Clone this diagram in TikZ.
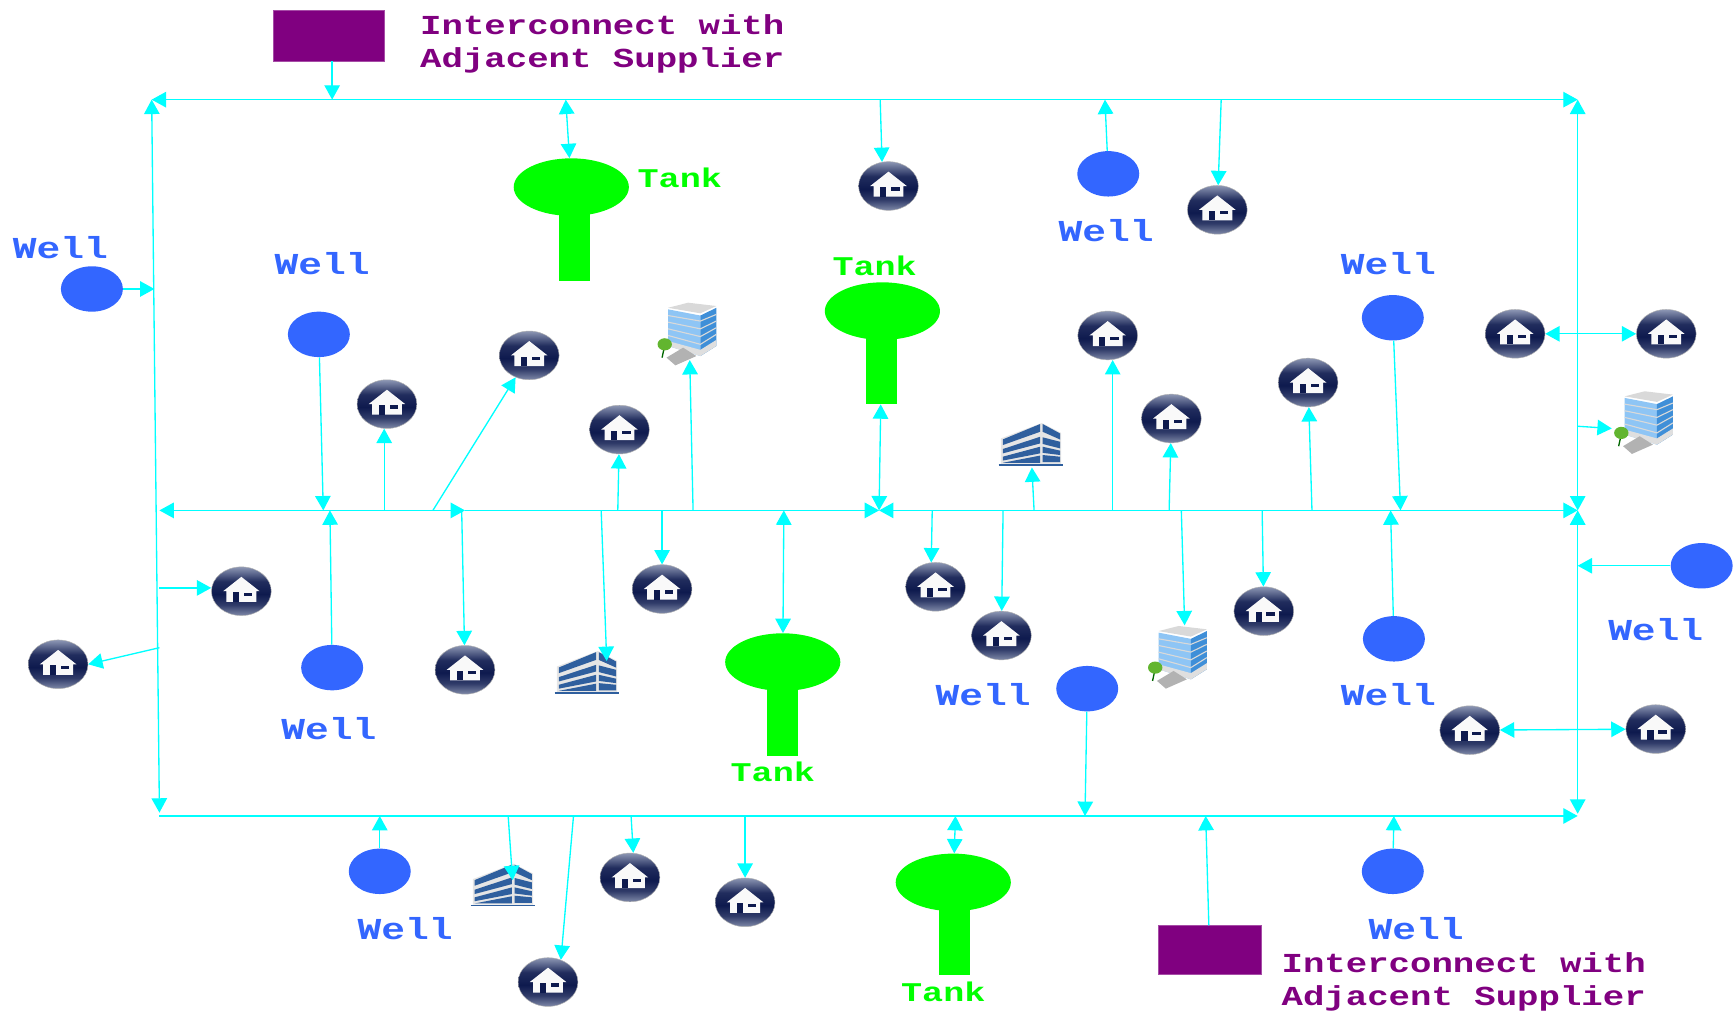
\documentclass[tikz,border=0pt]{standalone}
\usepackage{xcolor}
\usepackage{fontspec}
\usepackage{tikz}
\usetikzlibrary{arrows.meta,shapes.geometric}
\newfontfamily\labelfont[FakeStretch=1.3]{Liberation Mono}
\definecolor{wellblue}{HTML}{3366FF}
\definecolor{tankgreen}{HTML}{00FF00}
\definecolor{supplier}{HTML}{800080}
\definecolor{pipecyan}{HTML}{00FFFF}
\definecolor{navy}{HTML}{0E1A4E}
\definecolor{domelow}{HTML}{7F89A8}
\definecolor{domehigh}{HTML}{8D97B4}
\definecolor{slab}{HTML}{2F5F9E}
\definecolor{glasslight}{HTML}{8EC5F5}
\definecolor{glassdark}{HTML}{3F8FD8}
\definecolor{leaf}{HTML}{62B52F}
\pgfdeclareverticalshading{housedome}{100bp}{
	color(0bp)=(domelow);
	color(25bp)=(domelow);
	color(36bp)=(navy!70!domelow);
	color(47bp)=(navy);
	color(60bp)=(navy!85!domehigh);
	color(75bp)=(domehigh);
	color(100bp)=(domehigh)
}
\tikzset{
	house/.style={
		ellipse, draw=gray!60, line width=0.4pt,
		minimum width=54, minimum height=44, inner sep=0pt,
		shading=housedome,
		path picture={
			\begin{scope}[shift={(path picture bounding box.center)}]
				\fill[white!95!gray] (0,-13) -- (16.5,0) -- (13.5,0) -- (13.5,9.6)
					-- (-13.5,9.6) -- (-13.5,0) -- (-16.5,0) -- cycle;
				\fill[navy] (-7.5,1) rectangle (-2,9.6);
				\fill[navy] (2.4,1.2) rectangle (10,4.2);
			\end{scope}
		}
	},
	tower/.style={
		minimum width=56, minimum height=58, inner sep=0pt,
		path picture={
			\begin{scope}[shift={(path picture bounding box.center)}]
				\fill[gray!30] (-16.6,-24) -- (1.5,-28.6) -- (27,-25.6) -- (12.6,-19) -- cycle;
				\fill[glasslight] (-16.6,-22.6) -- (12.6,-17) -- (12.6,19.6) -- (-16.6,10.5) -- cycle;
				\fill[glassdark] (12.6,-17) -- (27,-24) -- (27,10.5) -- (12.6,19.6) -- cycle;
				\foreach \f in {0,1,2,3} {
					\draw[gray!30, line width=1pt] (-16.6,-17+6*\f) -- (12.6,-12+7*\f) -- (27,-18+6*\f);
				}
				\fill[gray!25] (-16.6,6) -- (12.6,14) -- (27,5) -- (27,10.5) -- (12.6,19.6) -- (-16.6,10.5) -- cycle;
				\fill[gray!60] (-18,21) -- (-3,12) -- (9,19.6) -- (-10,28) -- cycle;
				\draw[green!40!black, line width=1.2pt] (-19.6,10) -- (-22,21);
				\fill[leaf] (-19.6,9) circle [x radius=6.5, y radius=5.5];
			\end{scope}
		}
	},
	lowrise/.style={
		minimum width=60, minimum height=40, inner sep=0pt,
		path picture={
			\begin{scope}[shift={(path picture bounding box.center)}]
				\fill[gray!20] (-27,-6) -- (10,-20) -- (27.5,-11) -- (27.5,17) -- (-27,17) -- cycle;
				\fill[slab] (-25.3,-5.1) -- (8.4,-19) -- (8.4,-12) -- (-25.3,0) -- cycle;
				\fill[slab] (-25.3,3.6) -- (8.4,-7.5) -- (8.4,-1.5) -- (-25.3,7.5) -- cycle;
				\fill[slab] (-25.3,10.5) -- (8.4,1.5) -- (8.4,7.5) -- (-25.3,14) -- cycle;
				\fill[slab] (-25.3,16) -- (8.4,9.5) -- (8.4,16) -- cycle;
				\fill[slab] (10.8,-19) -- (26.5,-10.5) -- (26.5,-5) -- (10.8,-12) -- cycle;
				\fill[slab] (10.8,-7) -- (26.5,-3) -- (26.5,3) -- (10.8,-1) -- cycle;
				\fill[slab] (10.8,1.5) -- (26.5,5) -- (26.5,9) -- (10.8,7) -- cycle;
				\fill[slab] (10.8,9) -- (26.5,10.5) -- (26.5,15.5) -- (10.8,15.5) -- cycle;
				\draw[slab, line width=1.4pt] (-29,18) -- (29.5,18);
			\end{scope}
		}
	}
}
\begin{document}
\begin{tikzpicture}[
	x=1pt, y=-1pt,
	>={Triangle[length=13pt,width=14pt]},
	pipe/.style={draw=pipecyan, line width=1.2pt},
	well/.style={ellipse, fill=wellblue, minimum width=56, minimum height=41, inner sep=0pt},
	tank/.style={ellipse, fill=tankgreen, minimum width=104, minimum height=52, inner sep=0pt},
	stem/.style={rectangle, fill=tankgreen, minimum width=28, inner sep=0pt},
	interconnect/.style={rectangle, fill=supplier, draw=supplier!70!white, line width=0.6pt, inner sep=0pt},
	welltext/.style={text=wellblue, font=\labelfont\bfseries\fontsize{27.5}{30}\selectfont},
	tanktext/.style={text=tankgreen, font=\labelfont\bfseries\fontsize{24.4}{30}\selectfont},
	suppliertext/.style={text=supplier, align=center, font=\labelfont\bfseries\fontsize{24.8}{30}\selectfont}
]
\useasboundingbox (0,0) rectangle (1568,914);

% supply points
\node[well] (well1) at (83,261) {};
\node[well] (well2) at (288,302) {};
\node[well] (well3) at (1001,157) {};
\node[well] (well4) at (1258,287) {};
\node[well] (well5) at (1537,511) {};
\node[well] (well6) at (300,603) {};
\node[well] (well7) at (982,622) {};
\node[well] (well8) at (1259,577) {};
\node[well] (well9) at (343,787) {};
\node[well] (well10) at (1258,787) {};
\node[welltext] (welllabel1) at (54.5,224) {Well};
\node[welltext] (welllabel2) at (291,238) {Well};
\node[welltext] (welllabel3) at (999,208) {Well};
\node[welltext] (welllabel4) at (1254,238) {Well};
\node[welltext] (welllabel5) at (1495.5,569) {Well};
\node[welltext] (welllabel6) at (297,658) {Well};
\node[welltext] (welllabel7) at (888,627) {Well};
\node[welltext] (welllabel8) at (1254,627) {Well};
\node[welltext] (welllabel9) at (366,839) {Well};
\node[welltext] (welllabel10) at (1279,839) {Well};

% tanks
\node[stem, minimum height=64] (stem1) at (519,222) {};
\node[tank] (tank1) at (516,169) {};
\node[stem, minimum height=64] (stem2) at (796,333) {};
\node[tank] (tank2) at (797,281) {};
\node[stem, minimum height=64] (stem3) at (707,651) {};
\node[tank] (tank3) at (707,598) {};
\node[stem, minimum height=64] (stem4) at (862,849) {};
\node[tank] (tank4) at (861,797) {};
\node[tanktext] (tanklabel1) at (614,161) {Tank};
\node[tanktext] (tanklabel2) at (790,240) {Tank};
\node[tanktext] (tanklabel3) at (698,697) {Tank};
\node[tanktext] (tanklabel4) at (852,896) {Tank};

% interconnects
\node[interconnect, minimum width=100, minimum height=46] (supply1) at (297,32) {};
\node[interconnect, minimum width=93, minimum height=44] (supply2) at (1092.5,858) {};
\node[suppliertext] (supplylabel1) at (544,40) {Interconnect with\\Adjacent Supplier};
\node[suppliertext] (supplylabel2) at (1322,887) {Interconnect with\\Adjacent Supplier};

% homes
\node[house] (home1) at (802.5,168) {};
\node[house] (home2) at (1099.5,189.5) {};
\node[house] (home3) at (478,321) {};
\node[house] (home4) at (349.5,365) {};
\node[house] (home5) at (559.5,388) {};
\node[house] (home6) at (1000.5,303) {};
\node[house] (home7) at (1058,378) {};
\node[house] (home8) at (1181.5,345.5) {};
\node[house] (home9) at (1368.5,301.5) {};
\node[house] (home10) at (1505,301.5) {};
\node[house] (home11) at (218,534) {};
\node[house] (home12) at (52.5,600) {};
\node[house] (home13) at (598,532) {};
\node[house] (home14) at (420,605) {};
\node[house] (home15) at (845,530) {};
\node[house] (home16) at (904.5,574) {};
\node[house] (home17) at (1141.5,552) {};
\node[house] (home18) at (1327.5,659.5) {};
\node[house] (home19) at (1495.5,658.5) {};
\node[house] (home20) at (569,792.5) {};
\node[house] (home21) at (673,815) {};
\node[house] (home22) at (495,887) {};

% offices
\node[tower] (tower1) at (620,302) {};
\node[tower] (tower2) at (1484,382) {};
\node[tower] (tower3) at (1063,594) {};
\node[lowrise] (low1) at (931,402) {};
\node[lowrise] (low2) at (530,608) {};
\node[lowrise] (low3) at (454,800) {};

% frame corners and junctions
\coordinate (nw) at (137,90);
\coordinate (ne) at (1425,90);
\coordinate (sw) at (144,737);
\coordinate (se) at (1425,737);
\coordinate (west) at (144,461);
\coordinate (split) at (420,461);
\coordinate (centre) at (794,461);
\coordinate (east) at (1425,461);
\foreach \n/\x in {1/300,2/511,3/795,4/998,5/1103} \coordinate (top\n) at (\x,90);
\foreach \n/\x in {1/292,2/298,3/347,4/391,5/417,6/543,7/558,8/598,9/626,10/708,
	11/842,12/906,13/934,14/1005,15/1056,16/1067,17/1140,18/1185,19/1256,20/1265}
	\coordinate (mid\n) at (\x,461);
\foreach \n/\x in {1/343,2/459,3/518,4/570,5/673,6/863,7/980,8/1089,9/1259} \coordinate (bot\n) at (\x,737);
\coordinate (left1) at (139.5,261);
\coordinate (left2) at (144,531);
\coordinate (left3) at (144,585);
\coordinate (right1) at (1425,385);
\coordinate (right2) at (1425,511);

% mains
\draw[pipe,<->] (nw) -- (ne);
\draw[pipe,<->] (nw) -- ([yshift=3]sw);
\draw[pipe,->] (sw) -- (se);
\draw[pipe,<->] (ne) -- (east);
\draw[pipe,<->] (east) -- ([yshift=2]se);
\draw[pipe,<->] (west) -- (split);
\draw[pipe,->] (split) -- (centre);
\draw[pipe,<->] (centre) -- (east);

% top main
\draw[pipe,->] (supply1.south -| top1) -- (top1);
\draw[pipe,<->] (top2) -- (tank1);
\draw[pipe,->] (top3) -- (home1.105);
\draw[pipe,->] (well3) -- (top4);
\draw[pipe,->] (top5) -- (home2);

% sides
\draw[pipe,->] (well1) -- (left1);
\draw[pipe,->] (left2) -- (home11.west |- left2);
\draw[pipe,->] (left3) -- (home12.east);
\draw[pipe,<->] (home9) -- (home10);
\draw[pipe,->] (right1) -- ([yshift=-5]tower2.west);
\draw[pipe,->] (well5) -- (right2);
\draw[pipe,<->] (home18) -- (home19);

% middle main
\draw[pipe,->] (well2) -- (mid1);
\draw[pipe,->] (well6) -- (mid2);
\draw[pipe,->] (mid3) -- (home4.south -| mid3);
\draw[pipe,->] (mid4) -- (home3);
\draw[pipe,->] (mid5) -- (home14);
\draw[pipe,->] (mid6) -- ([xshift=18,yshift=11]low2.center);
\draw[pipe,->] (mid7) -- (home5);
\draw[pipe,->] (mid8) -- (home13);
\draw[pipe,->] (mid9) -- ([xshift=3,yshift=6]tower1.south);
\draw[pipe,<->] (mid10) -- (tank3);
\draw[pipe,<->] (centre) -- (stem2);
\draw[pipe,->] (mid11) -- (home15.100);
\draw[pipe,->] (mid12) -- (home16);
\draw[pipe,->] (mid13) -- (low1);
\draw[pipe,->] (mid14) -- (home6.south -| mid14);
\draw[pipe,->] (mid15) -- (home7);
\draw[pipe,->] (mid16) -- ([xshift=7]tower3.north);
\draw[pipe,->] (mid17) -- (home17);
\draw[pipe,->] (mid18) -- (home8);
\draw[pipe,->] (well4) -- (mid20);
\draw[pipe,->] (well8) -- (mid19);

% bottom main
\draw[pipe,->] (well7) -- (bot7);
\draw[pipe,->] (well9) -- (bot1);
\draw[pipe,->] (bot2) -- ([xshift=9,yshift=5]low3.center);
\draw[pipe,->] (bot3) -- (home22.60);
\draw[pipe,->] (bot4) -- (home20.north -| 572,0);
\draw[pipe,->] (bot5) -- (home21);
\draw[pipe,<->] (bot6) -- (tank4);
\draw[pipe,->] (supply2) -- (bot8);
\draw[pipe,->] (well10) -- (bot9);
\end{tikzpicture}
\end{document}
